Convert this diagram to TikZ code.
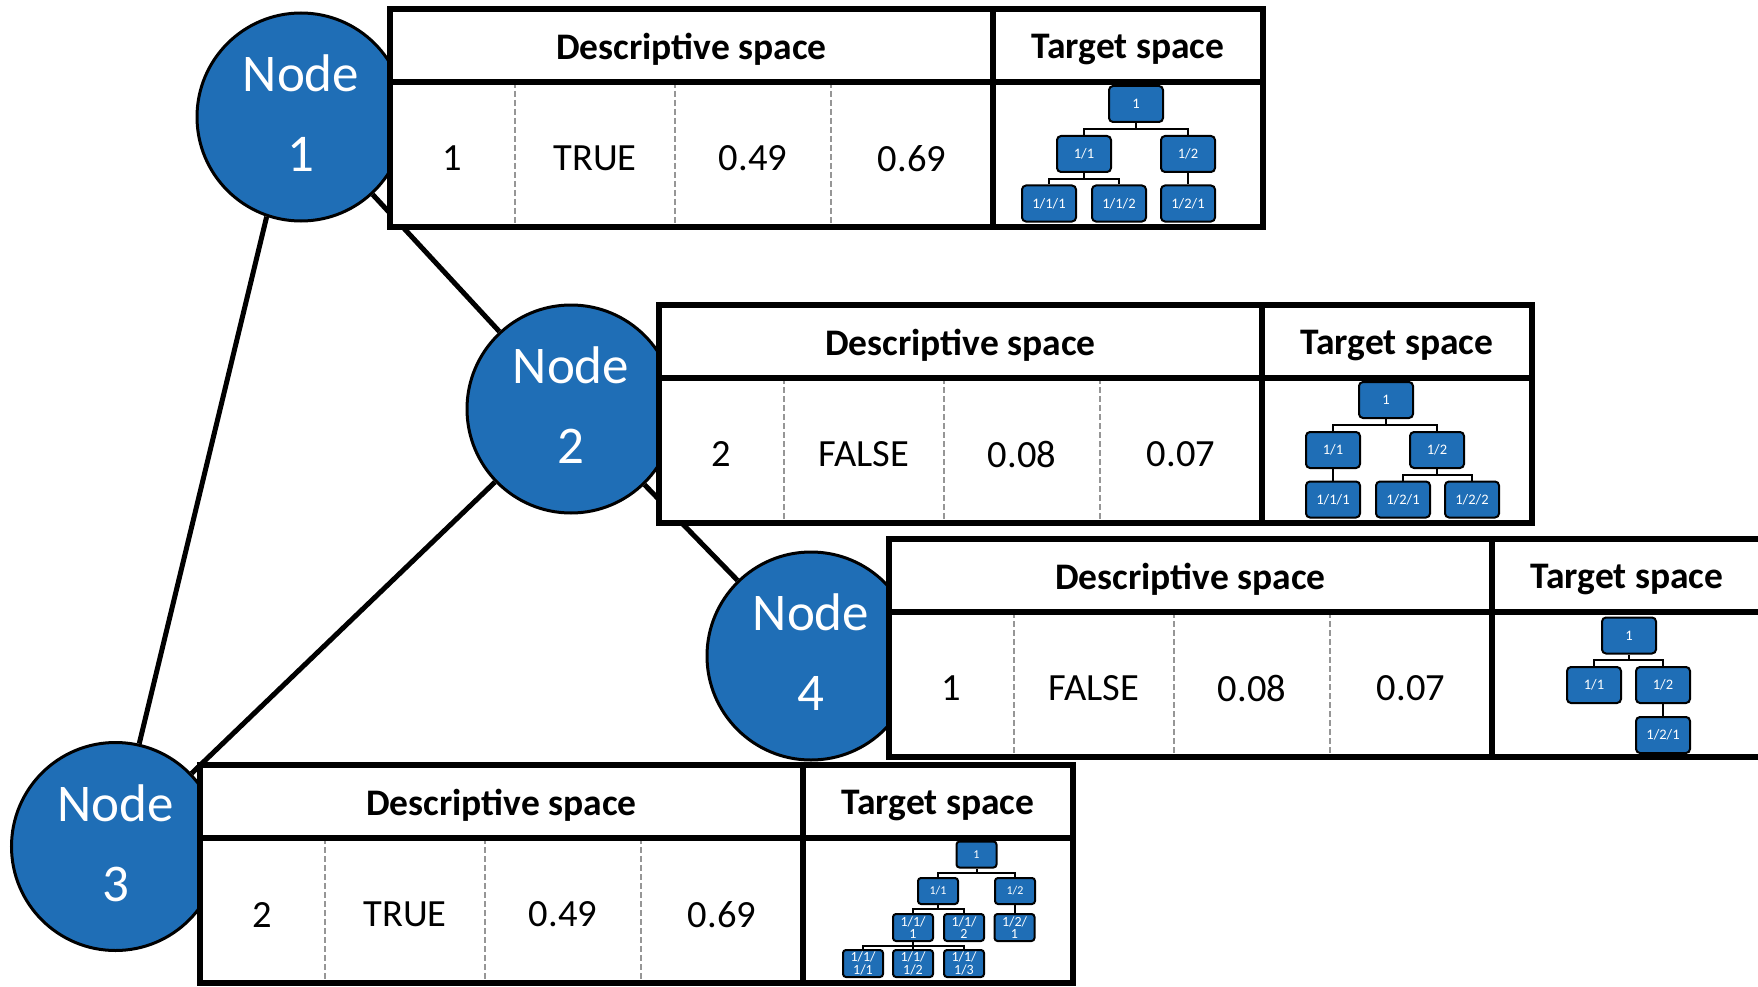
\documentclass[tikz,border=0pt]{standalone}
\usepackage{fontspec}
\setmainfont{Carlito}
\usetikzlibrary{calc}

\definecolor{nodeblue}{RGB}{31,110,182}
\definecolor{sepgray}{RGB}{150,150,150}

\tikzset{
  graphnode/.style={circle, draw=black, line width=3pt, fill=nodeblue,
    minimum size=208pt, inner sep=0pt, text=white, align=center,
    font=\fontsize{53}{80}\selectfont,
    execute at end node={\rule[-7pt]{0pt}{7pt}}},
  link/.style={line width=5pt, black},
  frame/.style={line width=5.5pt, black},
  colsep/.style={line width=2pt, sepgray, dash pattern=on 6pt off 3pt},
  headtext/.style={font=\fontsize{37.5}{40}\selectfont\bfseries, inner sep=0pt},
  celltext/.style={font=\fontsize{38.5}{40}\selectfont, inner sep=0pt},
  tbox/.style={draw=black, line width=2pt, rounded corners=4pt, fill=nodeblue,
    text=white, minimum width=54pt, minimum height=36pt, inner sep=0pt,
    font=\fontsize{14.5}{16}\selectfont},
  sbox/.style={tbox, rounded corners=3pt, minimum width=40pt, minimum height=26pt,
    align=center, font=\fontsize{12}{13}\selectfont},
  sboxtwo/.style={sbox, minimum height=27pt, font=\fontsize{14}{12.5}\selectfont},
  elbow/.style={to path={(\tikztostart) --
    ($(\tikztostart)!0.5!(\tikztostart |- \tikztotarget)$) -| (\tikztotarget)}},
  branch/.style={line width=2pt, black},
}

% table with a descriptive part (four values) and a target part
\newcommand{\infotable}[7]{%
  \begin{scope}[shift={(#2,#3)}]
    \fill[white] (0,0) rectangle (873,218);
    \foreach \xs in {125,285,441} \draw[colsep] (\xs,73) -- (\xs,218);
    \draw[frame] (0,0) rectangle (873,218);
    \draw[frame] (0,73) -- (873,73);
    \draw[frame] (603,0) -- (603,218);
    \node[headtext] (#1-desc) at (301.5,40.5) {Descriptive space};
    \node[headtext] (#1-targ) at (738,40.5) {Target space};
    \node[celltext] (#1-a) at (62.5,149.5) {#4};
    \node[celltext] (#1-b) at (205,149.5) {#5};
    \node[celltext] (#1-c) at (363,149.5) {#6};
    \node[celltext] (#1-d) at (522,149.5) {#7};
  \end{scope}}

\begin{document}
\begin{tikzpicture}[x=1pt,y=-1pt]
\useasboundingbox (0,0) rectangle (1758,987);

% graph
\node[graphnode] (n1) at (301,117) {Node\\1};
\node[graphnode] (n2) at (571,409) {Node\\2};
\node[graphnode] (n3) at (115.5,846.5) {Node\\3};
\node[graphnode] (n4) at (811,656) {Node\\4};

\draw[link] (n1.251) -- (n3.77);
\draw[link] (n1) -- (n2);
\draw[link] (n2) -- (n3);
\draw[link] (n2) -- (n4);

% tables
\infotable{t1}{390}{9}{1}{TRUE}{0.49}{0.69}
\infotable{t2}{659}{305}{2}{FALSE}{0.08}{0.07}
\infotable{t4}{889}{539}{1}{FALSE}{0.08}{0.07}
\infotable{t3}{200}{765}{2}{TRUE}{0.49}{0.69}

% target tree of node 1
\node[tbox] (a1) at (1136,104) {1};
\node[tbox] (a11) at (1084,154) {1/1};
\node[tbox] (a12) at (1188,154) {1/2};
\node[tbox] (a111) at (1049,203.5) {1/1/1};
\node[tbox] (a112) at (1119,203.5) {1/1/2};
\node[tbox] (a121) at (1188,203.5) {1/2/1};
\draw[branch] (a1.south) to[elbow] (a11.north)
              (a1.south) to[elbow] (a12.north)
              (a11.south) to[elbow] (a111.north)
              (a11.south) to[elbow] (a112.north)
              (a12.south) to[elbow] (a121.north);

% target tree of node 2
\node[tbox] (b1) at (1386,400) {1};
\node[tbox] (b11) at (1333,450) {1/1};
\node[tbox] (b12) at (1437,450) {1/2};
\node[tbox] (b111) at (1333,499.5) {1/1/1};
\node[tbox] (b121) at (1403,499.5) {1/2/1};
\node[tbox] (b122) at (1472,499.5) {1/2/2};
\draw[branch] (b1.south) to[elbow] (b11.north)
              (b1.south) to[elbow] (b12.north)
              (b11.south) to[elbow] (b111.north)
              (b12.south) to[elbow] (b121.north)
              (b12.south) to[elbow] (b122.north);

% target tree of node 4
\node[tbox] (d1) at (1629,635.5) {1};
\node[tbox] (d11) at (1594,685) {1/1};
\node[tbox] (d12) at (1663,685) {1/2};
\node[tbox] (d121) at (1663,735) {1/2/1};
\draw[branch] (d1.south) to[elbow] (d11.north)
              (d1.south) to[elbow] (d12.north)
              (d12.south) to[elbow] (d121.north);

% target tree of node 3
\node[sbox] (c1) at (976.5,854.5) {1};
\node[sbox] (c11) at (938,891) {1/1};
\node[sbox] (c12) at (1015,891) {1/2};
\node[sboxtwo] (c111) at (913,927.5) {1/1/\\1};
\node[sboxtwo] (c112) at (964,927.5) {1/1/\\2};
\node[sboxtwo] (c121) at (1014.5,927.5) {1/2/\\1};
\node[sboxtwo] (c1111) at (863,963.5) {1/1/\\1/1};
\node[sboxtwo] (c1112) at (913,963.5) {1/1/\\1/2};
\node[sboxtwo] (c1113) at (964,963.5) {1/1/\\1/3};
\draw[branch] (c1.south) to[elbow] (c11.north)
              (c1.south) to[elbow] (c12.north)
              (c11.south) to[elbow] (c111.north)
              (c11.south) to[elbow] (c112.north)
              (c12.south) to[elbow] (c121.north)
              (c111.south) to[elbow] (c1111.north)
              (c111.south) to[elbow] (c1112.north)
              (c111.south) to[elbow] (c1113.north);
\end{tikzpicture}
\end{document}
